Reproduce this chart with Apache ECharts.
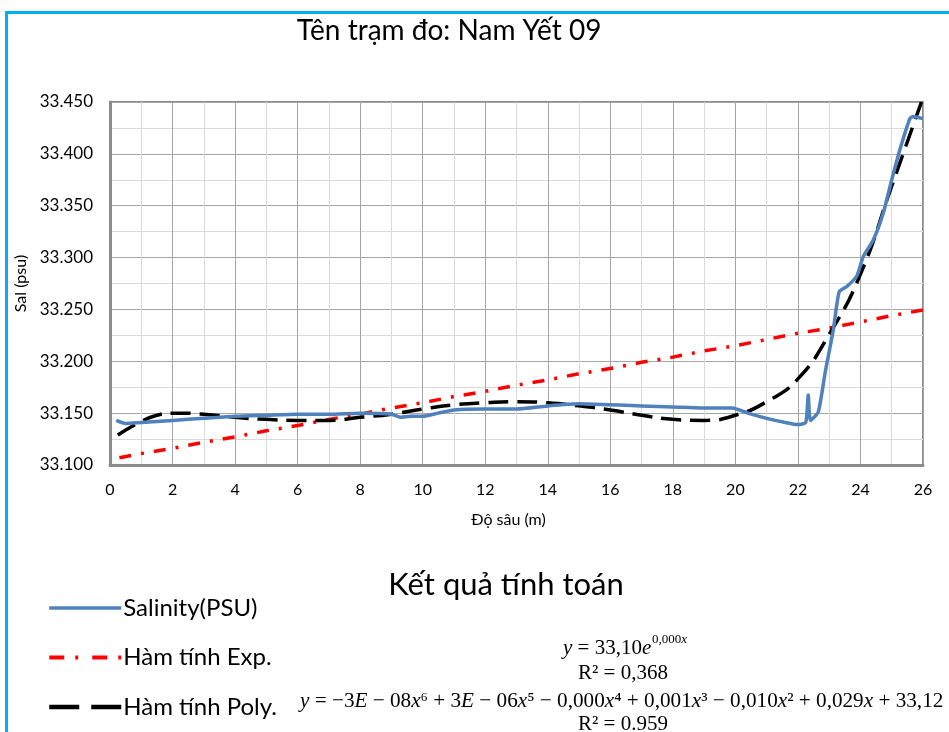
<!DOCTYPE html>
<html><head><meta charset="utf-8">
<script src="https://cdn.jsdelivr.net/npm/echarts@6/dist/echarts.min.js"></script>
<style>html,body{margin:0;padding:0;background:#fff}#c{width:949px;height:732px}</style>
</head><body><div id="c"></div><script>
// Salinity (measured)
const salDepth = [0.2,0.5,1.0,2.0,3.0,4.0,5.0,6.0,7.0,8.0,9.0,9.3,9.6,10.0,10.5,11.0,12.0,13.0,14.0,15.0,16.0,17.0,18.0,19.0,19.9,20.4,21.0,21.6,22.0,22.25,22.33,22.4,22.65,22.87,23.13,23.32,23.56,23.88,24.09,24.41,24.73,25.0,25.26,25.58,25.69,26.0];
const salValue = [33.143,33.140,33.141,33.143,33.145,33.147,33.148,33.149,33.149,33.150,33.149,33.146,33.147,33.147,33.150,33.153,33.154,33.154,33.157,33.159,33.158,33.157,33.156,33.155,33.155,33.150,33.145,33.141,33.139,33.141,33.1675,33.143,33.151,33.189,33.230,33.267,33.272,33.282,33.301,33.317,33.343,33.375,33.404,33.434,33.436,33.434];
// Exponential fit
const expDepth = [0.3,1,2,3,4,5,6,7,8,9,10,11,12,13,14,15,16,17,18,19,20,21,22,23,24,25,26];
const expValue = [33.107,33.111,33.116,33.122,33.127,33.133,33.138,33.144,33.149,33.155,33.160,33.166,33.171,33.177,33.182,33.188,33.193,33.199,33.204,33.210,33.215,33.221,33.227,33.232,33.238,33.244,33.2495];
// Polynomial fit
const polyDepth = [0.25,1.0,1.5,2.0,3.0,4.0,5.0,6.0,7.0,8.0,9.0,10.0,11.0,12.0,13.0,14.0,15.0,16.0,17.0,18.0,19.0,20.0,21.0,22.0,23.0,24.0,25.0,25.95];
const polyValue = [33.129,33.142,33.148,33.150,33.149,33.146,33.144,33.143,33.143,33.146,33.149,33.154,33.158,33.160,33.161,33.160,33.157,33.153,33.148,33.144,33.143,33.148,33.161,33.183,33.226,33.284,33.369,33.450];

const seriesNames = ['Salinity(PSU)','Hàm tính Exp.','Hàm tính Poly.'];
const pair = (xs, ys) => xs.map((x,i)=>[x, ys[i]]);

const chart = echarts.init(document.getElementById('c'));
const F = 'Lato';
const S = 'Liberation Serif';
chart.setOption({
  animation:false,
  backgroundColor:'#fff',
  title:[
    {text:'Tên trạm đo: Nam Yết 09', left:444, top:12, textAlign:'center', textStyle:{fontFamily:F,fontSize:28,fontWeight:'normal',color:'#000'}},
    {text:'Kết quả tính toán', left:501, top:564, textAlign:'center', textStyle:{fontFamily:F,fontSize:31,fontWeight:'normal',color:'#000'}}
  ],
  grid:{left:110, right:26, top:102, bottom:267, containLabel:false, show:true, borderColor:'#8c8c8c', borderWidth:2, backgroundColor:'transparent'},
  xAxis:{type:'value', min:0, max:26, interval:2,
    name:'Độ sâu (m)', nameLocation:'middle', nameGap:47, nameTextStyle:{fontFamily:F,fontSize:16,color:'#000',padding:[0,16,0,0]},
    axisLine:{show:true,onZero:false,lineStyle:{color:'#8c8c8c',width:3}},
    axisTick:{show:false},
    axisLabel:{fontFamily:F,fontSize:16,color:'#000',margin:17},
    splitLine:{show:true,lineStyle:{color:'#a6a6a6',width:1}},
    minorTick:{show:false,splitNumber:2},
    minorSplitLine:{show:true,lineStyle:{color:'#d9d9d9',width:1}}
  },
  yAxis:{type:'value', min:33.1, max:33.45, interval:0.05,
    name:'Sal (psu)', nameLocation:'middle', nameGap:80, nameRotate:90, nameTextStyle:{fontFamily:F,fontSize:16,color:'#000'},
    axisLine:{show:true,lineStyle:{color:'#8c8c8c',width:3}},
    axisTick:{show:false},
    axisLabel:{fontFamily:F,fontSize:17,color:'#000',margin:17,formatter:v=>v.toFixed(3)},
    splitLine:{show:true,lineStyle:{color:'#a6a6a6',width:1}},
    minorTick:{show:false,splitNumber:2},
    minorSplitLine:{show:true,lineStyle:{color:'#d9d9d9',width:1}}
  },
  legend:{orient:'vertical', left:42, top:591, itemGap:25.5, itemWidth:72, itemHeight:24,
    itemStyle:{opacity:0},
    data:[
      {name:seriesNames[0], lineStyle:{color:'#4f81bd', width:3.5, type:'solid'}},
      {name:seriesNames[1], lineStyle:{color:'#ff0000', width:4, type:[15,11,3,14]}},
      {name:seriesNames[2], lineStyle:{color:'#000', width:4.5, type:[30,12]}}
    ],
    textStyle:{fontFamily:F,fontSize:24,color:'#000',padding:[0,0,0,-3]}},
  series:[
    {name:seriesNames[0], type:'line', data:pair(salDepth,salValue), symbol:'none', smooth:0.2,
      lineStyle:{color:'#4f81bd',width:3.5}, itemStyle:{color:'#4f81bd'}, z:3},
    {name:seriesNames[1], type:'line', data:pair(expDepth,expValue), symbol:'none',
      lineStyle:{color:'#ff0000',width:3.5,type:[12,10,3,10]}, itemStyle:{color:'#ff0000'}, z:2},
    {name:seriesNames[2], type:'line', data:pair(polyDepth,polyValue), symbol:'none', smooth:true,
      lineStyle:{color:'#000',width:3.5,type:[20,9]}, itemStyle:{color:'#000'}, z:2}
  ],
  graphic:[
    {type:'rect', left:4, top:10, shape:{width:1000,height:800}, style:{fill:'none',stroke:'#00b0f0',lineWidth:3}, silent:true},
    {type:'text', left:563, top:638, style:{text:'{i|y} = 33,10{i|e}', rich:{i:{fontStyle:'italic',fontFamily:S,fontSize:21}}, fontFamily:S, fontSize:21, fill:'#000'}},
    {type:'text', left:652, top:633, style:{text:'0,000{i|x}', rich:{i:{fontStyle:'italic',fontFamily:S,fontSize:13}}, fontFamily:S, fontSize:13, fill:'#000'}},
    {type:'text', left:578, top:663, style:{text:'R² = 0,368', fontFamily:S, fontSize:21, fill:'#000'}},
    {type:'text', left:300, top:691, style:{text:'{i|y} = −3{i|E} − 08{i|x}⁶ + 3{i|E} − 06{i|x}⁵ − 0,000{i|x}⁴ + 0,001{i|x}³ − 0,010{i|x}² + 0,029{i|x} + 33,12', rich:{i:{fontStyle:'italic',fontFamily:S,fontSize:21.2}}, fontFamily:S, fontSize:21.2, fill:'#000'}},
    {type:'text', left:578, top:714, style:{text:'R² = 0.959', fontFamily:S, fontSize:21, fill:'#000'}}
  ]
});
</script></body></html>
